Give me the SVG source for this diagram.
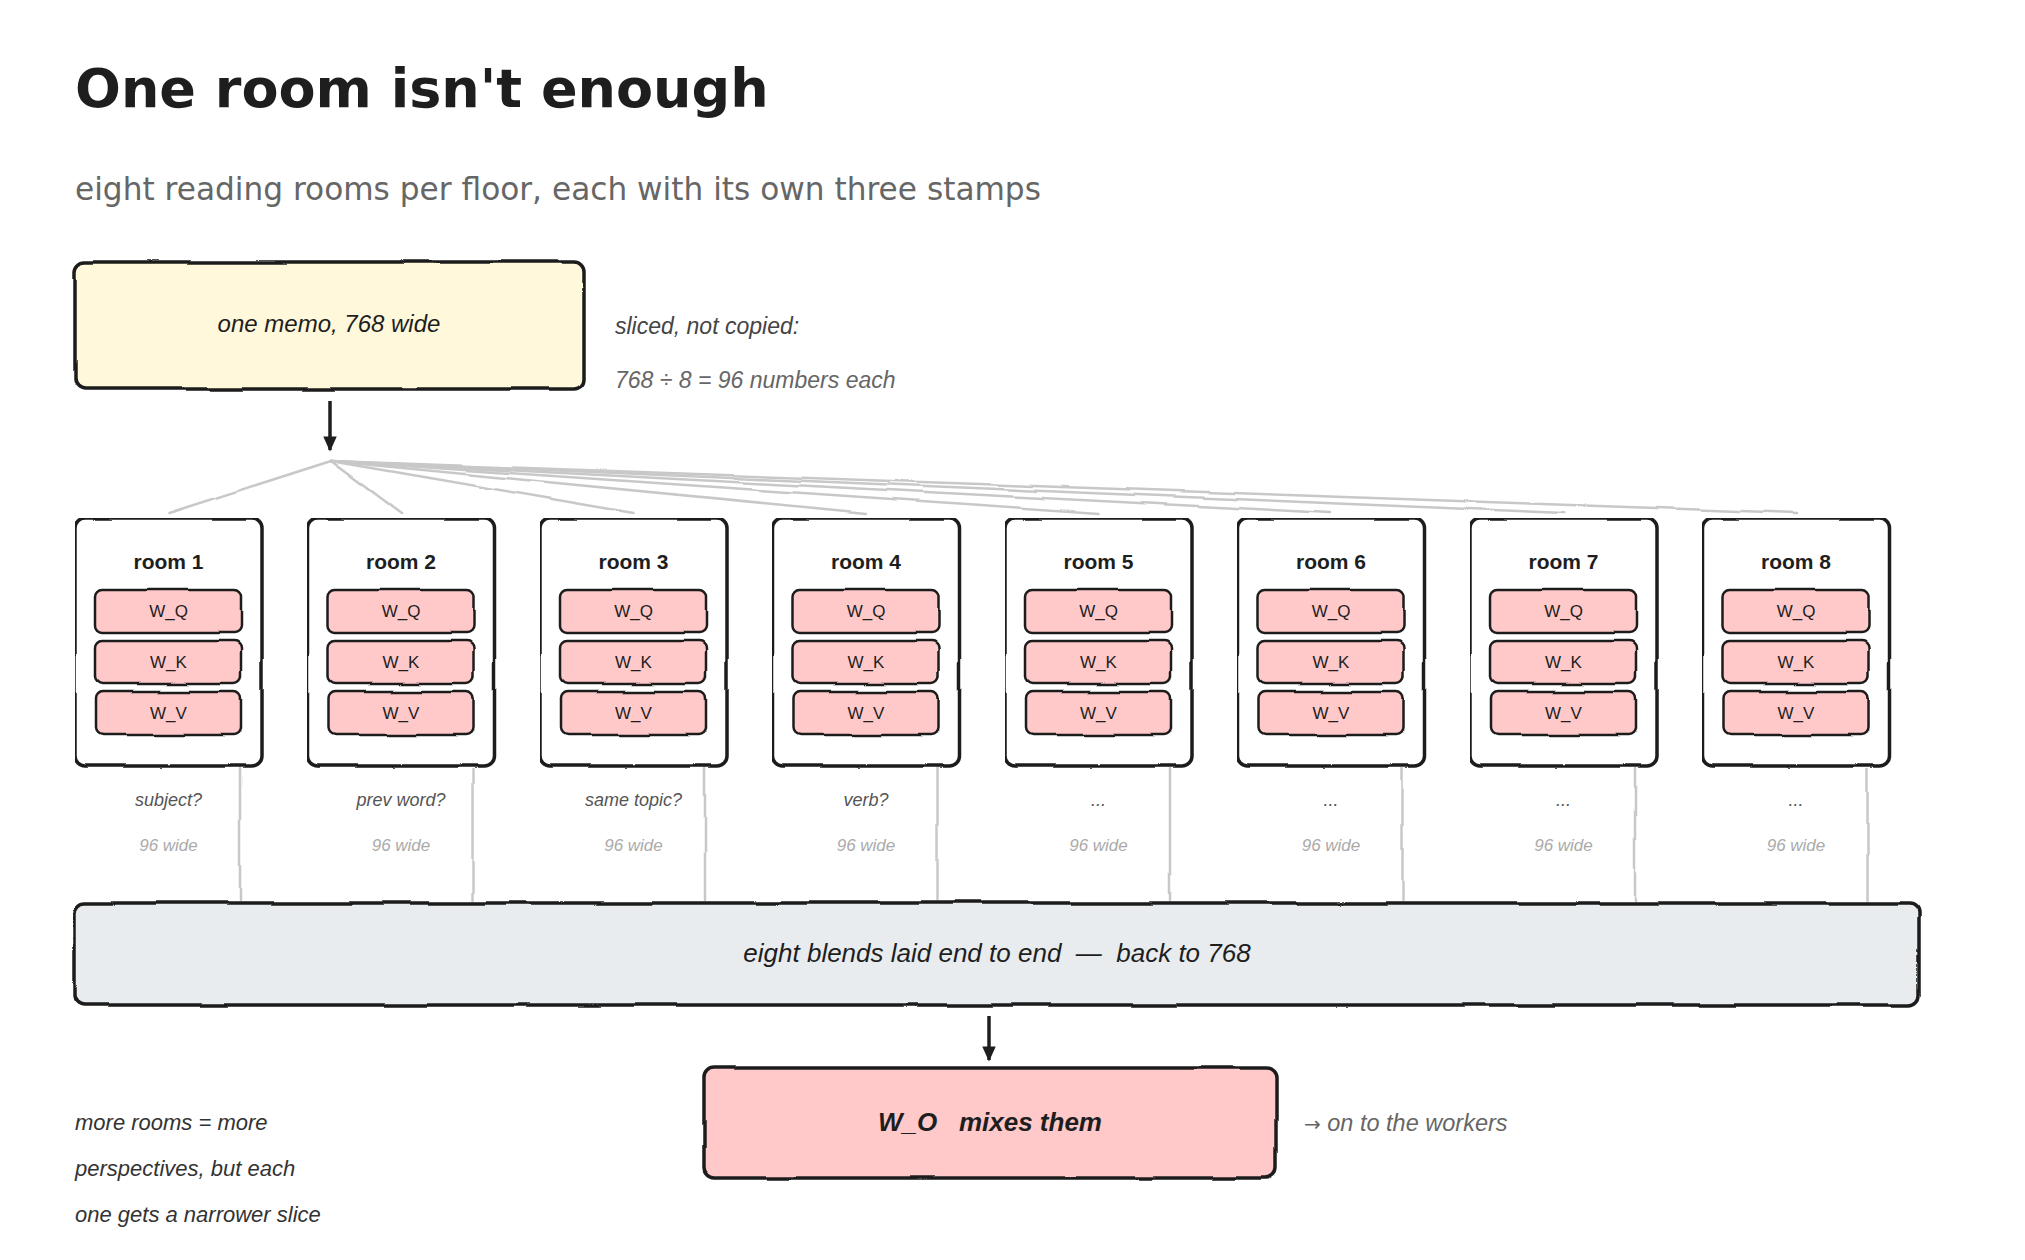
<svg xmlns="http://www.w3.org/2000/svg" width="2025" height="1260" viewBox="0 0 2025 1260">
<defs>
<filter id="rough" filterUnits="userSpaceOnUse" x="0" y="0" width="2025" height="1260">
<feTurbulence type="fractalNoise" baseFrequency="0.016" numOctaves="1" seed="3" result="n"/>
<feDisplacementMap in="SourceGraphic" in2="n" scale="5" xChannelSelector="R" yChannelSelector="G"/>
</filter>
<marker id="ah" viewBox="0 0 10 10" refX="9" refY="5" markerWidth="16" markerHeight="15" markerUnits="userSpaceOnUse" orient="auto">
<path d="M0,0.5 L10,5 L0,9.5 z" fill="#1e1e1e"/>
</marker>
</defs>
<style>
.box{stroke:#1e1e1e;stroke-width:3.5;filter:url(#rough)}
.memo{fill:#fff8db}
.room{fill:#ffffff}
.bar{fill:#e9ecef}
.wo{fill:#ffc9c9}
.stamp{fill:#ffc9c9;stroke:#1e1e1e;stroke-width:2.5;filter:url(#rough)}
.fan{fill:none;stroke:#c8c8c8;stroke-width:2.5;stroke-linecap:round}
.arr{fill:none;stroke:#1e1e1e;stroke-width:3.5;marker-end:url(#ah)}
.h{font-family:"Liberation Sans",Arial,sans-serif}
.it{font-style:italic}
.c{text-anchor:middle}
.rl{font-size:21px;font-weight:bold;fill:#1e1e1e}
.st{font-size:17px;fill:#1e1e1e}
.q{font-size:18px;fill:#555555;font-style:italic}
.w{font-size:17px;fill:#aaaaaa;font-style:italic}
</style>
<rect width="2025" height="1260" fill="#ffffff"/>
<text x="75" y="107" font-family="DejaVu Sans, sans-serif" font-weight="bold" font-size="54" fill="#1e1e1e">One room isn't enough</text>
<text x="75" y="200" font-family="DejaVu Sans, sans-serif" font-size="31.2" fill="#666666">eight reading rooms per floor, each with its own three stamps</text>

<g id="connectors">
<path class="arr" d="M330 401 L330 450"/>
<g filter="url(#rough)">
<path class="fan" d="M331 461 L168.5 513"/>
<path class="fan" d="M331 461 L401 513"/>
<path class="fan" d="M331 461 L633.5 513"/>
<path class="fan" d="M331 461 L866 513"/>
<path class="fan" d="M331 461 L1098.5 513"/>
<path class="fan" d="M331 461 L1331 513"/>
<path class="fan" d="M331 461 L1563.5 513"/>
<path class="fan" d="M331 461 L1796 513"/>
<path class="fan" d="M240 768 L240 900"/>
<path class="fan" d="M472.5 768 L472.5 900"/>
<path class="fan" d="M705 768 L705 900"/>
<path class="fan" d="M937.5 768 L937.5 900"/>
<path class="fan" d="M1170 768 L1170 900"/>
<path class="fan" d="M1402.5 768 L1402.5 900"/>
<path class="fan" d="M1635 768 L1635 900"/>
<path class="fan" d="M1867.5 768 L1867.5 900"/>
</g>
<path class="arr" d="M989 1016 L989 1060"/>
</g>

<g id="memo">
<rect class="box memo" x="75" y="262" width="509" height="127" rx="10"/>
<text class="h it c" x="329" y="332" font-size="24" fill="#1e1e1e">one memo, 768 wide</text>
</g>
<g id="memo-note">
<text class="h it" x="615" y="334" font-size="23" fill="#444444">sliced, not copied:</text>
<text class="h it" x="615" y="388" font-size="23" fill="#666666">768 ÷ 8 = 96 numbers each</text>
</g>

<g id="room1" transform="translate(75,518)">
<rect class="box room" width="187" height="248" rx="10"/>
<text class="h c rl" x="93.5" y="51">room 1</text>
<rect class="stamp" x="21" y="72" width="145" height="43" rx="7"/><text class="h c st" x="93.5" y="99">W_Q</text>
<rect class="stamp" x="21" y="123" width="145" height="43" rx="7"/><text class="h c st" x="93.5" y="150">W_K</text>
<rect class="stamp" x="21" y="174" width="145" height="43" rx="7"/><text class="h c st" x="93.5" y="201">W_V</text>
<text class="h c q" x="93.5" y="288">subject?</text>
<text class="h c w" x="93.5" y="333">96 wide</text>
</g>
<g id="room2" transform="translate(307.5,518)">
<rect class="box room" width="187" height="248" rx="10"/>
<text class="h c rl" x="93.5" y="51">room 2</text>
<rect class="stamp" x="21" y="72" width="145" height="43" rx="7"/><text class="h c st" x="93.5" y="99">W_Q</text>
<rect class="stamp" x="21" y="123" width="145" height="43" rx="7"/><text class="h c st" x="93.5" y="150">W_K</text>
<rect class="stamp" x="21" y="174" width="145" height="43" rx="7"/><text class="h c st" x="93.5" y="201">W_V</text>
<text class="h c q" x="93.5" y="288">prev word?</text>
<text class="h c w" x="93.5" y="333">96 wide</text>
</g>
<g id="room3" transform="translate(540,518)">
<rect class="box room" width="187" height="248" rx="10"/>
<text class="h c rl" x="93.5" y="51">room 3</text>
<rect class="stamp" x="21" y="72" width="145" height="43" rx="7"/><text class="h c st" x="93.5" y="99">W_Q</text>
<rect class="stamp" x="21" y="123" width="145" height="43" rx="7"/><text class="h c st" x="93.5" y="150">W_K</text>
<rect class="stamp" x="21" y="174" width="145" height="43" rx="7"/><text class="h c st" x="93.5" y="201">W_V</text>
<text class="h c q" x="93.5" y="288">same topic?</text>
<text class="h c w" x="93.5" y="333">96 wide</text>
</g>
<g id="room4" transform="translate(772.5,518)">
<rect class="box room" width="187" height="248" rx="10"/>
<text class="h c rl" x="93.5" y="51">room 4</text>
<rect class="stamp" x="21" y="72" width="145" height="43" rx="7"/><text class="h c st" x="93.5" y="99">W_Q</text>
<rect class="stamp" x="21" y="123" width="145" height="43" rx="7"/><text class="h c st" x="93.5" y="150">W_K</text>
<rect class="stamp" x="21" y="174" width="145" height="43" rx="7"/><text class="h c st" x="93.5" y="201">W_V</text>
<text class="h c q" x="93.5" y="288">verb?</text>
<text class="h c w" x="93.5" y="333">96 wide</text>
</g>
<g id="room5" transform="translate(1005,518)">
<rect class="box room" width="187" height="248" rx="10"/>
<text class="h c rl" x="93.5" y="51">room 5</text>
<rect class="stamp" x="21" y="72" width="145" height="43" rx="7"/><text class="h c st" x="93.5" y="99">W_Q</text>
<rect class="stamp" x="21" y="123" width="145" height="43" rx="7"/><text class="h c st" x="93.5" y="150">W_K</text>
<rect class="stamp" x="21" y="174" width="145" height="43" rx="7"/><text class="h c st" x="93.5" y="201">W_V</text>
<text class="h c q" x="93.5" y="288">...</text>
<text class="h c w" x="93.5" y="333">96 wide</text>
</g>
<g id="room6" transform="translate(1237.5,518)">
<rect class="box room" width="187" height="248" rx="10"/>
<text class="h c rl" x="93.5" y="51">room 6</text>
<rect class="stamp" x="21" y="72" width="145" height="43" rx="7"/><text class="h c st" x="93.5" y="99">W_Q</text>
<rect class="stamp" x="21" y="123" width="145" height="43" rx="7"/><text class="h c st" x="93.5" y="150">W_K</text>
<rect class="stamp" x="21" y="174" width="145" height="43" rx="7"/><text class="h c st" x="93.5" y="201">W_V</text>
<text class="h c q" x="93.5" y="288">...</text>
<text class="h c w" x="93.5" y="333">96 wide</text>
</g>
<g id="room7" transform="translate(1470,518)">
<rect class="box room" width="187" height="248" rx="10"/>
<text class="h c rl" x="93.5" y="51">room 7</text>
<rect class="stamp" x="21" y="72" width="145" height="43" rx="7"/><text class="h c st" x="93.5" y="99">W_Q</text>
<rect class="stamp" x="21" y="123" width="145" height="43" rx="7"/><text class="h c st" x="93.5" y="150">W_K</text>
<rect class="stamp" x="21" y="174" width="145" height="43" rx="7"/><text class="h c st" x="93.5" y="201">W_V</text>
<text class="h c q" x="93.5" y="288">...</text>
<text class="h c w" x="93.5" y="333">96 wide</text>
</g>
<g id="room8" transform="translate(1702.5,518)">
<rect class="box room" width="187" height="248" rx="10"/>
<text class="h c rl" x="93.5" y="51">room 8</text>
<rect class="stamp" x="21" y="72" width="145" height="43" rx="7"/><text class="h c st" x="93.5" y="99">W_Q</text>
<rect class="stamp" x="21" y="123" width="145" height="43" rx="7"/><text class="h c st" x="93.5" y="150">W_K</text>
<rect class="stamp" x="21" y="174" width="145" height="43" rx="7"/><text class="h c st" x="93.5" y="201">W_V</text>
<text class="h c q" x="93.5" y="288">...</text>
<text class="h c w" x="93.5" y="333">96 wide</text>
</g>

<g id="blend">
<rect class="box bar" x="75" y="903" width="1844" height="102" rx="10"/>
<text class="h it c" x="997" y="962" font-size="26" fill="#1e1e1e" xml:space="preserve">eight blends laid end to end  —  back to 768</text>
</g>

<g id="wo">
<rect class="box wo" x="704" y="1068" width="572" height="110" rx="10"/>
<text class="h it c" x="990" y="1131" font-size="26" font-weight="bold" fill="#1e1e1e" xml:space="preserve">W_O   mixes them</text>
</g>
<g id="wo-note">
<text class="h it" x="1304" y="1131" font-size="23.5" fill="#666666"><tspan font-family="DejaVu Sans, sans-serif" font-style="normal" font-size="20">→</tspan> on to the workers</text>
</g>

<g id="side-note">
<text class="h it" x="75" y="1130" font-size="22" fill="#333333">more rooms = more</text>
<text class="h it" x="75" y="1176" font-size="22" fill="#333333">perspectives, but each</text>
<text class="h it" x="75" y="1222" font-size="22" fill="#333333">one gets a narrower slice</text>
</g>
</svg>
